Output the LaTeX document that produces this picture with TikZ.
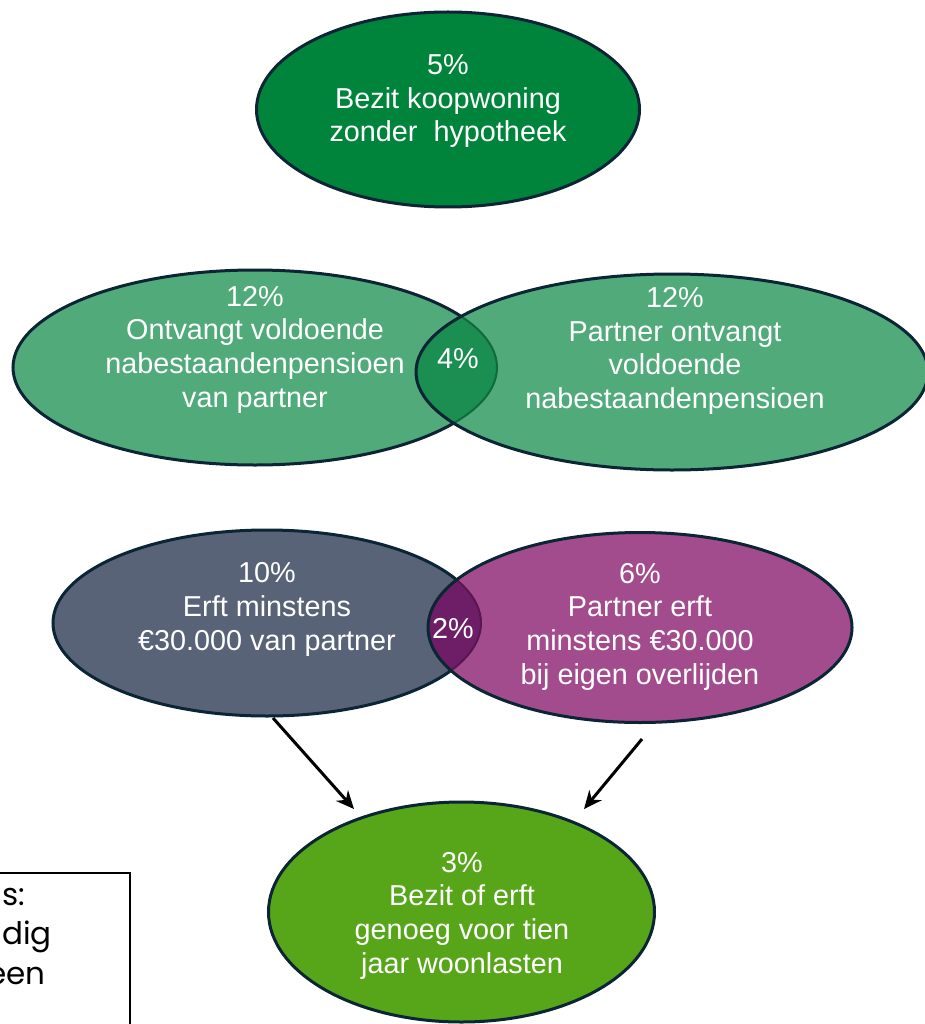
\documentclass[tikz,border=0pt]{standalone}
\usepackage{fontspec}
\setmainfont{Liberation Sans}
\newfontfamily\boxfont{Poppins}
\usetikzlibrary{shapes.geometric,arrows.meta}
\definecolor{edgenavy}{HTML}{0B2535}
\definecolor{topgreen}{HTML}{00843C}
\definecolor{midgreen}{HTML}{50AA7A}
\definecolor{lensgreen}{HTML}{1B8E52}
\definecolor{lensgreenedge}{HTML}{0E6B3E}
\definecolor{slate}{HTML}{596377}
\definecolor{purple}{HTML}{A24C8E}
\definecolor{lenspurple}{HTML}{6E1E66}
\definecolor{lenspurpleedge}{HTML}{5A1552}
\definecolor{botgreen}{HTML}{57A519}
\tikzset{
  blob/.style={ellipse, draw=edgenavy, line width=3pt, inner sep=0pt},
  lbl/.style={text=white, align=center, font=\fontsize{28.8}{33.7}\selectfont},
  arr/.style={-{Stealth[length=18pt,width=16pt]}, line width=3pt, black},
  boxtxt/.style={anchor=east, inner sep=0pt, font=\boxfont\fontsize{31}{36}\selectfont},
}
\begin{document}
\begin{tikzpicture}[x=1pt,y=-1pt]
\useasboundingbox (0,0) rectangle (925,1024);
% top
\node[blob, fill=topgreen, minimum width=383pt, minimum height=195pt] (top) at (448,109.5) {};
% middle pair
\node[blob, fill=midgreen, minimum width=484pt, minimum height=195pt] (pensL) at (255,367.5) {};
\node[ellipse, fill=midgreen, inner sep=0pt, minimum width=512pt, minimum height=196pt] (pensR) at (672,372) {};
\begin{scope}
  \clip (255,367.5) ellipse [x radius=242, y radius=97.5];
  \fill[lensgreen] (672,372) ellipse [x radius=256, y radius=98];
\end{scope}
\begin{scope}
  \clip (672,372) ellipse [x radius=256, y radius=98];
  \draw[lensgreenedge, line width=2pt] (255,367.5) ellipse [x radius=242, y radius=97.5];
\end{scope}
\draw[edgenavy, line width=3pt] (672,372) ellipse [x radius=256, y radius=98];
% erf pair
\node[blob, fill=slate, minimum width=428pt, minimum height=186pt] (erfL) at (267,623) {};
\node[ellipse, fill=purple, inner sep=0pt, minimum width=424pt, minimum height=190pt] (erfR) at (640,627.5) {};
\begin{scope}
  \clip (267,623) ellipse [x radius=214, y radius=93];
  \fill[lenspurple] (640,627.5) ellipse [x radius=212, y radius=95];
\end{scope}
\begin{scope}
  \clip (640,627.5) ellipse [x radius=212, y radius=95];
  \draw[lenspurpleedge, line width=2pt] (267,623) ellipse [x radius=214, y radius=93];
\end{scope}
\draw[edgenavy, line width=3pt] (640,627.5) ellipse [x radius=212, y radius=95];
% bottom
\node[blob, fill=botgreen, minimum width=386pt, minimum height=220pt] (bot) at (461.5,912) {};
% labels
\node[lbl] (tTop) at (448,101) {5\%\\Bezit koopwoning\\zonder\ \ hypotheek};
\node[lbl] (tPL) at (255,349.5) {12\%\\Ontvangt voldoende\\nabestaandenpensioen\\van partner};
\node[lbl] (tPR) at (675,351) {12\%\\Partner ontvangt\\voldoende\\nabestaandenpensioen};
\node[lbl] (tP4) at (458,359) {4\%};
\node[lbl] (tEL) at (267,609.5) {10\%\\Erft minstens\\€30.000 van partner};
\node[lbl] (tER) at (640,626.5) {6\%\\Partner erft\\minstens €30.000\\bij eigen overlijden};
\node[lbl] (tE2) at (453,629) {2\%};
\node[lbl] (tBot) at (462,915.5) {3\%\\Bezit of erft\\genoeg voor tien\\jaar woonlasten};
% arrows
\coordinate (a1s) at (273,718);
\coordinate (a1e) at (354,809);
\coordinate (a2s) at (642,739);
\coordinate (a2e) at (584,809);
\draw[arr] (a1s) -- (a1e);
\draw[arr] (a2s) -- (a2e);
% partial box
\draw[black, line width=2.5pt] (-5,873) -- (130,873) -- (130,1030);
\node[boxtxt] (b1) at (25,897) {s:};
\node[boxtxt] (b2) at (52,937) {dig};
\node[boxtxt] (b3) at (46,976) {een};
\end{tikzpicture}
\end{document}
